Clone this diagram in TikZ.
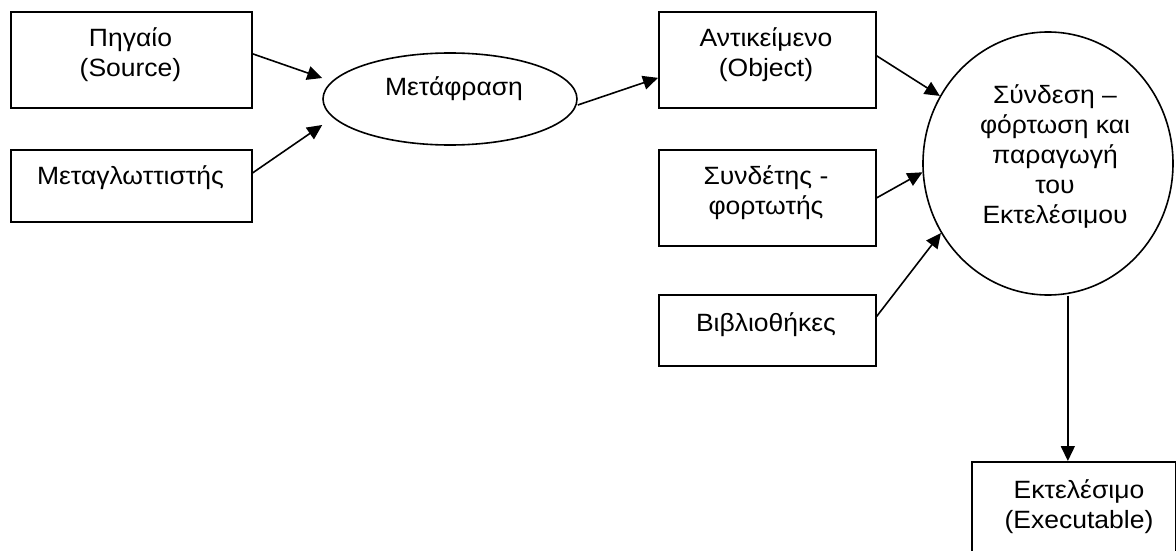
\documentclass[tikz,border=0pt]{standalone}
\usepackage{fontspec}
\setmainfont{Liberation Sans}[FakeStretch=1.06]
\usetikzlibrary{arrows.meta,shapes.geometric}
\newcommand\myTop{\rule{0pt}{24pt}}
\tikzset{
  box/.style={draw=black, line width=1.7pt, shape=rectangle, inner sep=0pt, anchor=north west},
  oval/.style={draw=black, line width=1.6pt, shape=ellipse, inner sep=0pt},
  lbl/.style={anchor=north, inner sep=0pt, align=center, font=\fontsize{25}{30}\selectfont},
  arr/.style={draw=black, line width=1.6pt, -{Triangle[length=15pt,width=14pt]}}
}
\begin{document}
\begin{tikzpicture}[x=1pt,y=-1pt]
\useasboundingbox (0,0) rectangle (1176,551);
\clip (0,0) rectangle (1176,551);
% boxes
\node[box, minimum width=241pt, minimum height=96pt] (a) at (10,11) {};
\node[box, minimum width=241pt, minimum height=72pt] (b) at (10,149) {};
\node[box, minimum width=217pt, minimum height=96pt] (obj) at (658,11) {};
\node[box, minimum width=217pt, minimum height=96pt] (syn) at (658,149) {};
\node[box, minimum width=217pt, minimum height=71pt] (bib) at (658,294) {};
\node[box, minimum width=204pt, minimum height=110pt] (exe) at (971,461) {};
\node[oval, minimum width=254pt, minimum height=92pt] (meta) at (450,99) {};
\node[oval, minimum width=250pt, minimum height=263pt] (link) at (1048,163.5) {};
% labels
\node[lbl] (ta) at (130.5,22) {\myTop Πηγαίο\\(Source)};
\node[lbl] (tb) at (130.5,160) {\myTop Μεταγλωττιστής};
\node[lbl] (tmeta) at (454,71) {\myTop Μετάφραση};
\node[lbl] (tobj) at (766,22) {\myTop Αντικείμενο\\(Object)};
\node[lbl] (tsyn) at (766,160) {\myTop Συνδέτης -\\φορτωτής};
\node[lbl] (tbib) at (766,307) {\myTop Βιβλιοθήκες};
\node[lbl] (tlink) at (1055,79) {\myTop Σύνδεση –\\φόρτωση και\\παραγωγή\\του\\Εκτελέσιμου};
\node[lbl] (texe) at (1079,474) {\myTop Εκτελέσιμο\\(Executable)};
% connectors
\draw[arr] ([yshift=6pt]a.east) -- ([yshift=21pt]meta.west);
\draw[arr] ([yshift=13pt]b.east) -- ([yshift=-26pt]meta.west);
\draw[arr] ([yshift=-6pt]meta.east) -- ([yshift=-18pt]obj.west);
\draw[arr] ([yshift=4pt]obj.east) -- (link.148);
\draw[arr] (syn.east) -- (link.184);
\draw[arr] ([yshift=14pt]bib.east) -- (link.213);
\coordinate (exin) at ([xshift=-6pt]exe.north);
\draw[arr] (link.south -| exin) -- (exin);
\end{tikzpicture}
\end{document}
